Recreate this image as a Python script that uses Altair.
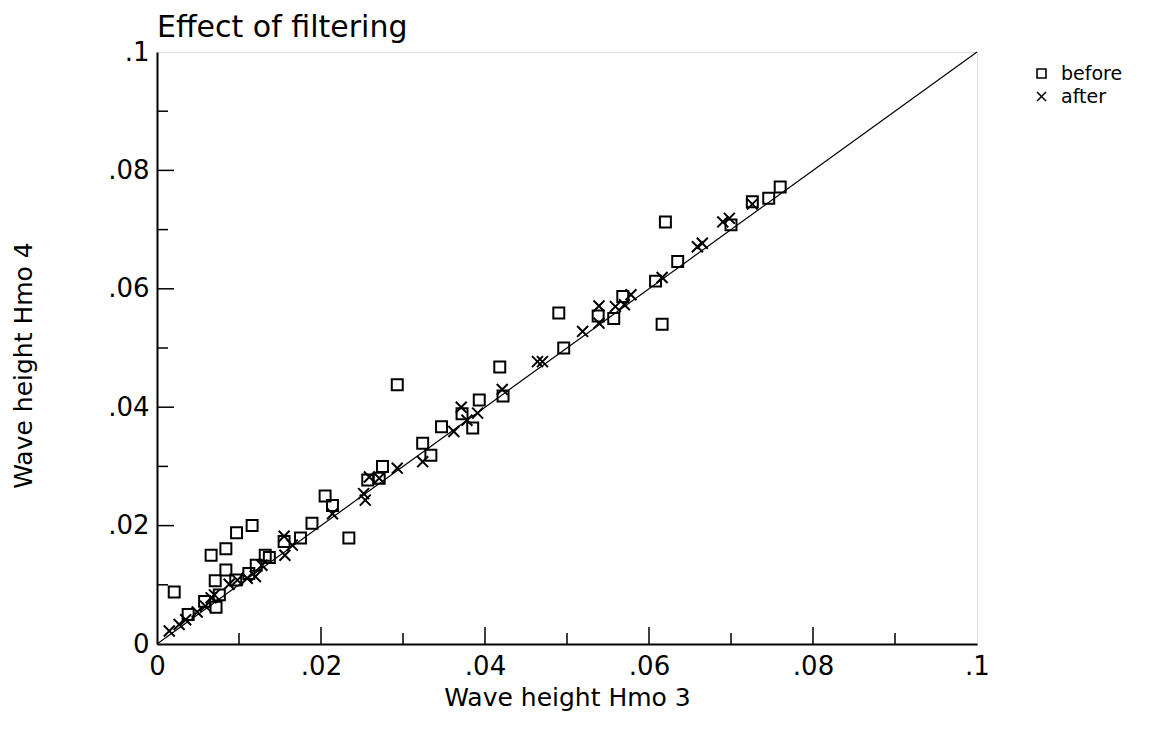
import altair as alt
import pandas as pd

# "before" filtering (squares)
before_x = [0.0021, 0.0066, 0.0084, 0.0097, 0.0116, 0.0084, 0.0071, 0.0072, 0.0038, 0.0058,
            0.0076, 0.0096, 0.0112, 0.0121, 0.0132, 0.0137, 0.0155, 0.0175, 0.0189, 0.0205,
            0.0214, 0.0234, 0.0257, 0.0271, 0.0275, 0.0293, 0.0324, 0.0334, 0.0347, 0.0372,
            0.0385, 0.0393, 0.0418, 0.0422, 0.0490, 0.0496, 0.0538, 0.0557, 0.0568, 0.0608,
            0.0616, 0.0620, 0.0635, 0.0700, 0.0726, 0.0746, 0.0760]
before_y = [0.0088, 0.0150, 0.0161, 0.0188, 0.0200, 0.0125, 0.0107, 0.0062, 0.0050, 0.0072,
            0.0083, 0.0108, 0.0119, 0.0133, 0.0150, 0.0146, 0.0173, 0.0179, 0.0204, 0.0250,
            0.0234, 0.0179, 0.0277, 0.0280, 0.0300, 0.0438, 0.0339, 0.0319, 0.0367, 0.0389,
            0.0365, 0.0412, 0.0468, 0.0419, 0.0559, 0.0500, 0.0554, 0.0550, 0.0587, 0.0613,
            0.0540, 0.0713, 0.0646, 0.0708, 0.0747, 0.0753, 0.0772]

# "after" filtering (crosses)
after_x = [0.0015, 0.0027, 0.0035, 0.0049, 0.0059, 0.0066, 0.0070, 0.0088, 0.0098, 0.0110,
           0.0120, 0.0128, 0.0155, 0.0156, 0.0165, 0.0214, 0.0252, 0.0254, 0.0259, 0.0271,
           0.0293, 0.0324, 0.0362, 0.0371, 0.0378, 0.0391, 0.0421, 0.0464, 0.0470, 0.0519,
           0.0539, 0.0539, 0.0559, 0.0570, 0.0578, 0.0616, 0.0659, 0.0665, 0.0690, 0.0698,
           0.0726]
after_y = [0.0022, 0.0033, 0.0041, 0.0054, 0.0064, 0.0078, 0.0083, 0.0101, 0.0108, 0.0111,
           0.0114, 0.0133, 0.0182, 0.0150, 0.0167, 0.0220, 0.0254, 0.0243, 0.0282, 0.0280,
           0.0297, 0.0308, 0.0359, 0.0400, 0.0378, 0.0390, 0.0430, 0.0477, 0.0477, 0.0528,
           0.0542, 0.0571, 0.0570, 0.0573, 0.0590, 0.0619, 0.0671, 0.0677, 0.0713, 0.0719,
           0.0743]

label_values = [0, 0.02, 0.04, 0.06, 0.08, 0.1]
major_ticks = [0.02, 0.04, 0.06, 0.08]
minor_ticks = [0.01, 0.03, 0.05, 0.07, 0.09]
diag = [0, 0.1]

FONT = "DejaVu Sans"
W, H = 820, 592

pts = pd.DataFrame({
    "x": before_x + after_x,
    "y": before_y + after_y,
    "kind": ["before"] * len(before_x) + ["after"] * len(after_x),
})
diag_df = pd.DataFrame({"x": diag, "y": diag})
maj_df = pd.DataFrame({"v": major_ticks})
min_df = pd.DataFrame({"v": minor_ticks})

xscale = alt.Scale(domain=[0, 0.1], nice=False, zero=True)
yscale = alt.Scale(domain=[0, 0.1], nice=False, zero=True)
lab_expr = "replace(format(datum.value, '~g'), '0.', '.')"

xaxis = alt.Axis(values=label_values, labelExpr=lab_expr, ticks=False, grid=False,
                 title="Wave height Hmo 3", labelFontSize=26, titleFontSize=25,
                 labelFont=FONT, titleFont=FONT, labelPadding=9, titlePadding=6,
                 domainColor="black", domainWidth=2, labelColor="black", titleColor="black",
                 titleFontWeight="normal", labelFlush=False)
yaxis = alt.Axis(values=label_values, labelExpr=lab_expr, ticks=False, grid=False,
                 title="Wave height Hmo 4", labelFontSize=26, titleFontSize=25,
                 labelFont=FONT, titleFont=FONT, labelPadding=8,
                 titleX=-134, titleY=313, titleAngle=-90, titleAlign="center",
                 titleBaseline="middle",
                 domainColor="black", domainWidth=2, labelColor="black", titleColor="black",
                 titleFontWeight="normal", labelFlush=False)

line = alt.Chart(diag_df).mark_line(color="black", strokeWidth=1.2).encode(
    x=alt.X("x:Q", scale=xscale, axis=xaxis),
    y=alt.Y("y:Q", scale=yscale, axis=yaxis),
)

XPATH = "M-1,-1L1,1M-1,1L1,-1"
points = alt.Chart(pts).mark_point(filled=False, strokeWidth=2, opacity=1, size=120).encode(
    x=alt.X("x:Q", scale=xscale),
    y=alt.Y("y:Q", scale=yscale),
    shape=alt.Shape("kind:N",
                    scale=alt.Scale(domain=["before", "after"], range=["square", XPATH]),
                    legend=alt.Legend(title=None, orient="none", legendX=875, legendY=12,
                                      labelFontSize=19, labelFont=FONT, labelColor="black",
                                      symbolStrokeColor="black", symbolStrokeWidth=1.6,
                                      symbolSize=80, symbolFillColor="white",
                                      rowPadding=3, labelOffset=10)),
    color=alt.value("black"),
)

xmaj = alt.Chart(maj_df).mark_rule(color="black", strokeWidth=1.5).encode(
    x=alt.X("v:Q", scale=xscale), y=alt.value(H), y2=alt.value(H - 17))
xmin = alt.Chart(min_df).mark_rule(color="black", strokeWidth=1.5).encode(
    x=alt.X("v:Q", scale=xscale), y=alt.value(H), y2=alt.value(H - 11))
ymaj = alt.Chart(maj_df).mark_rule(color="black", strokeWidth=1.5).encode(
    y=alt.Y("v:Q", scale=yscale), x=alt.value(0), x2=alt.value(17))
ymin = alt.Chart(min_df).mark_rule(color="black", strokeWidth=1.5).encode(
    y=alt.Y("v:Q", scale=yscale), x=alt.value(0), x2=alt.value(11))

chart = alt.layer(line, xmaj, xmin, ymaj, ymin, points).properties(
    width=W, height=H,
    title=alt.TitleParams("Effect of filtering", anchor="start", frame="group",
                          fontSize=30, font=FONT, fontWeight="normal", color="black",
                          offset=4, dy=8),
    padding={"left": 157, "top": 52, "right": 177, "bottom": 86},
    autosize=alt.AutoSizeParams(type="none"),
).configure_view(stroke="black", strokeWidth=1.3).configure(background="white")

chart.save("out.html", embed_options={"renderer": "svg", "actions": False})
